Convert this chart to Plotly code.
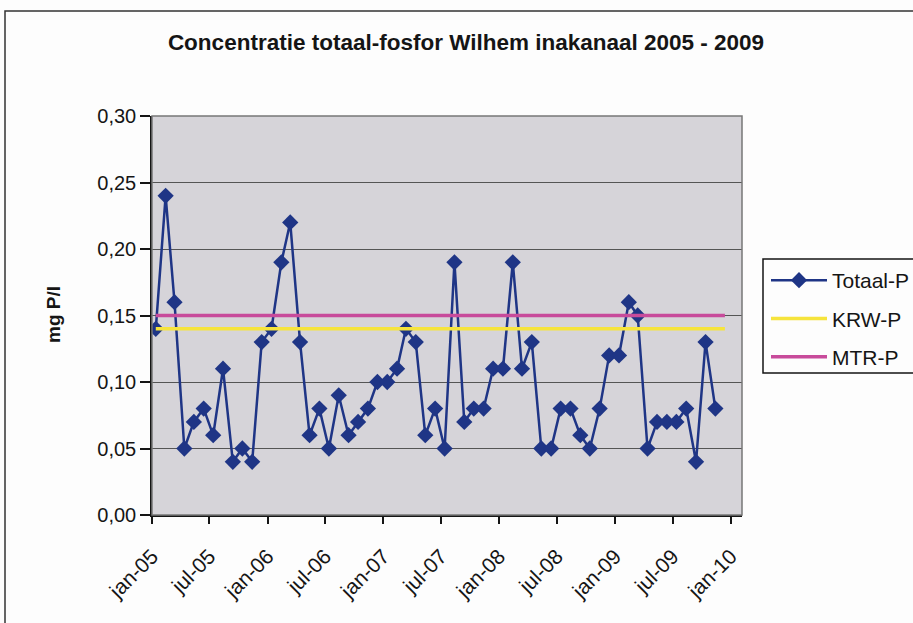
import plotly.graph_objects as go
import pandas as pd

# ---- data ----
totaal_p = [0.14, 0.24, 0.16, 0.05, 0.07, 0.08, 0.06, 0.11, 0.04, 0.05,
            0.04, 0.13, 0.14, 0.19, 0.22, 0.13, 0.06, 0.08, 0.05, 0.09,
            0.06, 0.07, 0.08, 0.10, 0.10, 0.11, 0.14, 0.13, 0.06, 0.08,
            0.05, 0.19, 0.07, 0.08, 0.08, 0.11, 0.11, 0.19, 0.11, 0.13,
            0.05, 0.05, 0.08, 0.08, 0.06, 0.05, 0.08, 0.12, 0.12, 0.16,
            0.15, 0.05, 0.07, 0.07, 0.07, 0.08, 0.04, 0.13, 0.08]
krw_value = 0.14
mtr_value = 0.15
n_norm_months = 60
tick_dates = ["2005-01-01", "2005-07-01", "2006-01-01", "2006-07-01", "2007-01-01",
              "2007-07-01", "2008-01-01", "2008-07-01", "2009-01-01", "2009-07-01",
              "2010-01-01"]
tick_labels = ["jan-05", "jul-05", "jan-06", "jul-06", "jan-07", "jul-07",
               "jan-08", "jul-08", "jan-09", "jul-09", "jan-10"]

dates_meas = pd.date_range("2005-01-01", periods=len(totaal_p), freq="MS") + pd.Timedelta(days=12)
dates_norm = pd.date_range("2005-01-01", periods=n_norm_months, freq="MS") + pd.Timedelta(days=12)
krw = [krw_value] * n_norm_months
mtr = [mtr_value] * n_norm_months

FONT = "Liberation Sans, Arial, sans-serif"
NAVY = "#1f3586"
INK = "#151515"

fig = go.Figure()
fig.add_trace(go.Scatter(x=dates_meas, y=totaal_p, name="Totaal-P", mode="lines+markers",
                         legendgroup="a",
                         line=dict(color=NAVY, width=2.5),
                         marker=dict(symbol="diamond", size=12.5, color=NAVY)))
fig.add_trace(go.Scatter(x=dates_norm, y=krw, name="KRW-P", mode="lines",
                         legendgroup="b",
                         line=dict(color="#f6e43c", width=3.5)))
fig.add_trace(go.Scatter(x=dates_norm, y=mtr, name="MTR-P", mode="lines",
                         legendgroup="c",
                         line=dict(color="#c84b9b", width=3.5)))

L, R, T, B = 152, 742, 116, 515
W, H = 913, 623

def px(x):
    return (x - L) / (R - L)

def py(y):
    return (B - y) / (B - T)

fig.update_layout(
    width=W, height=H,
    margin=dict(l=L, r=W - R, t=T, b=H - B, autoexpand=False),
    paper_bgcolor="#fdfdfd",
    plot_bgcolor="#d6d4d9",
    separators=",.",
    font=dict(family=FONT, color=INK),
    title=dict(text="<b>Concentratie totaal-fosfor Wilhem inakanaal 2005 - 2009</b>",
               xref="container", yref="container", x=466 / W, y=1 - 42 / H,
               xanchor="center", yanchor="middle",
               font=dict(size=22.5, family=FONT, color=INK)),
    legend=dict(x=px(766), y=py(260), xanchor="left", yanchor="top",
                borderwidth=0, bgcolor="rgba(0,0,0,0)",
                font=dict(size=21, family=FONT, color=INK),
                tracegroupgap=8, itemwidth=56),
    showlegend=True,
)

fig.update_xaxes(
    type="date", automargin=False,
    range=["2005-01-01", "2010-02-05"],
    tickvals=tick_dates, ticktext=tick_labels,
    tickangle=-45, tickfont=dict(size=21, family=FONT, color=INK),
    ticks="outside", ticklen=7, tickcolor=INK, tickwidth=1.5,
    ticklabelstandoff=12,
    showline=True, linecolor=INK, linewidth=1.5,
    showgrid=False, zeroline=False,
)
fig.update_yaxes(
    range=[0, 0.30], dtick=0.05, tickformat=".2f", automargin=False,
    tickfont=dict(size=20, family=FONT, color=INK),
    ticks="outside", ticklen=10, tickcolor=INK, tickwidth=1.5,
    showline=True, linecolor=INK, linewidth=1.5,
    showgrid=True, gridcolor="#555555", gridwidth=1,
    zeroline=False,
)

# plot area border (top/right grey)
fig.add_shape(type="rect", xref="paper", yref="paper", x0=0, y0=0, x1=1, y1=1,
              line=dict(color="#777777", width=1.5), layer="above")
# outer chart border
fig.add_shape(type="rect", xref="paper", yref="paper",
              x0=px(5), y0=py(640), x1=px(930), y1=py(11),
              line=dict(color="#333333", width=1.5), layer="above")
# legend border (extends past right edge)
fig.add_shape(type="rect", xref="paper", yref="paper",
              x0=px(763), y0=py(373), x1=px(930), y1=py(259),
              line=dict(color=INK, width=1.5), layer="above")

fig.add_annotation(text="<b>mg P/l</b>", xref="paper", yref="paper",
                   x=px(53), y=py(315), textangle=-90, showarrow=False,
                   xanchor="center", yanchor="middle",
                   font=dict(size=19, family=FONT, color=INK))

fig.write_html("out.html")
